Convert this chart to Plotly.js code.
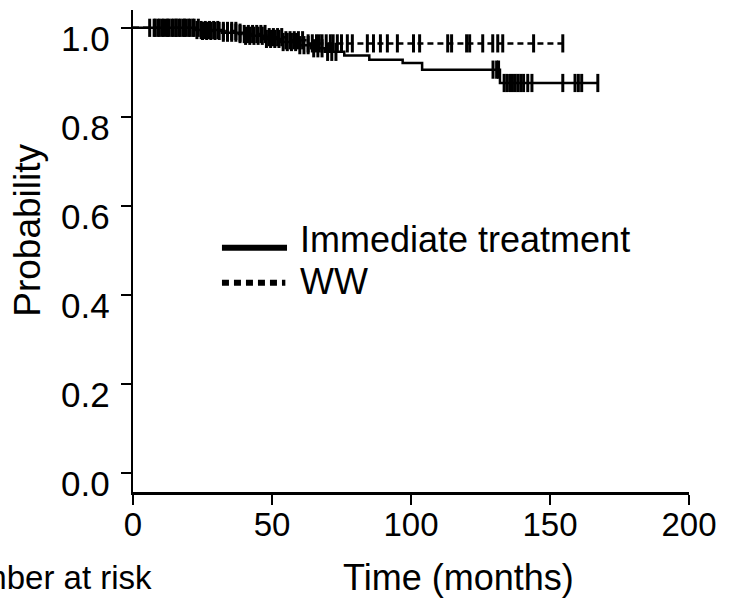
<!DOCTYPE html>
<html>
<head>
<meta charset="utf-8">
<script src="https://cdn.plot.ly/plotly-3.0.1.min.js"></script>
<style>
  html, body { margin: 0; padding: 0; background: #fff; }
  #chart { width: 734px; height: 603px; }
</style>
</head>
<body>
<div id="chart"></div>
<script>
// Kaplan-Meier step data (time in months, survival probability)
const immTimes = [0, 22, 32, 40, 47, 53, 59, 64, 69, 76, 85, 97, 104, 132, 167.5];
const immSurv  = [1, 0.995, 0.989, 0.982, 0.975, 0.968, 0.961, 0.954, 0.946, 0.938, 0.928, 0.921, 0.906, 0.876, 0.876];
const immCensor = [8, 9.5, 11, 12.5, 14, 15.5, 17, 18.5, 20, 21.5, 23, 24.5, 26, 27.5, 29, 30.5, 32.5, 34, 35.5, 37, 38.5,
                   40.5, 42, 43.5, 45, 46.5, 48, 49.5, 51, 52.5, 54, 55.5, 57, 58.5, 60, 61.5, 63, 65, 66.5, 68, 70, 71.5, 73,
                   129.5, 130.8, 131.5, 133.5, 134.5, 135.5, 136.5, 137.5, 138.5, 139.5, 140.5, 142, 143.5,
                   154.6, 159, 160.2, 161.4, 167.2];

const wwTimes = [0, 25, 38, 48, 55, 62, 155.5];
const wwSurv  = [1, 0.993, 0.986, 0.979, 0.972, 0.965, 0.965];
const wwCensor = [6, 7.6, 9, 10.5, 12, 13, 14.5, 15.5, 16.5, 18, 19, 20.5, 22, 23.5, 25, 26.5, 28, 29.5, 31, 32.5, 34, 35.5,
                  37, 38.5, 40, 41.5, 43, 44.5, 46, 47.5, 49, 50.5, 52, 53.5, 55, 56.5, 58, 59.5, 61,
                  63, 64.5, 66, 67, 68, 69.5, 71, 72, 73.5, 75, 77.1, 78.9, 84.3, 86.5, 89, 91.5, 95.1, 100.9, 103.1,
                  113.2, 114.6, 120, 121.1, 125.8, 129.4, 131.2, 133, 144.1, 154.6];

const seriesNames = ['Immediate treatment', 'WW'];
const xTicks = [0, 50, 100, 150, 200];
const yTicks = [0, 0.2, 0.4, 0.6, 0.8, 1.0];
const yTickLabels = ['0.0', '0.2', '0.4', '0.6', '0.8', '1.0'];

function survAt(times, surv, t) {
  let s = surv[0];
  for (let i = 0; i < times.length; i++) { if (times[i] <= t) s = surv[i]; }
  return s;
}

const font = 'Liberation Sans, Arial, sans-serif';
const censorMarker = { symbol: 'line-ns-open', size: 13, color: '#000', line: { width: 3, color: '#000' } };

const traces = [
  { x: immTimes, y: immSurv, mode: 'lines', line: { shape: 'hv', color: '#000', width: 2.5 }, name: seriesNames[0], showlegend: false, hoverinfo: 'skip' },
  { x: immCensor, y: immCensor.map(t => survAt(immTimes, immSurv, t)), mode: 'markers', marker: censorMarker, showlegend: false, hoverinfo: 'skip' },
  { x: wwTimes, y: wwSurv, mode: 'lines', line: { shape: 'hv', color: '#000', width: 2.5, dash: '6px,4px' }, name: seriesNames[1], showlegend: false, hoverinfo: 'skip' },
  { x: wwCensor, y: wwCensor.map(t => survAt(wwTimes, wwSurv, t)), mode: 'markers', marker: censorMarker, showlegend: false, hoverinfo: 'skip' }
];

// y tick labels drawn as annotations (they sit slightly below their ticks in the reference)
const yLabelAnns = yTicks.map((v, i) => ({
  xref: 'paper', yref: 'y', x: -0.038, y: v, xanchor: 'right', yanchor: 'middle', yshift: -11,
  text: yTickLabels[i], showarrow: false, font: { family: font, size: 35 }
}));

const layout = {
  width: 734, height: 603,
  margin: { l: 133, r: 45, t: 10, b: 111 },
  paper_bgcolor: '#fff', plot_bgcolor: '#fff',
  font: { family: font, color: '#000', size: 32 },
  showlegend: false,
  xaxis: {
    range: [0, 200], tickvals: xTicks, ticktext: xTicks.map(String),
    showline: true, linecolor: '#000', linewidth: 2.5, ticks: 'outside', ticklen: 10, tickwidth: 2.5, tickcolor: '#000',
    showgrid: false, zeroline: false, tickfont: { family: font, size: 33 }, ticklabelstandoff: -8, fixedrange: true
  },
  yaxis: {
    range: [-0.043, 1.04], tickvals: yTicks, showticklabels: false,
    showline: true, linecolor: '#000', linewidth: 2.5, ticks: 'outside', ticklen: 10, tickwidth: 2.5, tickcolor: '#000',
    showgrid: false, zeroline: false, fixedrange: true
  },
  shapes: [
    { type: 'line', xref: 'paper', yref: 'paper', x0: 0.160, x1: 0.277, y0: 0.507, y1: 0.507, line: { color: '#000', width: 6 } },
    { type: 'line', xref: 'paper', yref: 'paper', x0: 0.160, x1: 0.274, y0: 0.434, y1: 0.434, line: { color: '#000', width: 6, dash: '7px,5px' } }
  ],
  annotations: yLabelAnns.concat([
    { xref: 'paper', yref: 'paper', x: -0.189, y: 0.544, xanchor: 'center', yanchor: 'middle', textangle: -90, text: 'Probability', showarrow: false, font: { family: font, size: 37 } },
    { xref: 'paper', yref: 'paper', x: 0.297, y: 0.523, xanchor: 'left', yanchor: 'middle', text: seriesNames[0], showarrow: false, font: { family: font, size: 36 } },
    { xref: 'paper', yref: 'paper', x: 0.297, y: 0.436, xanchor: 'left', yanchor: 'middle', text: seriesNames[1], showarrow: false, font: { family: font, size: 36 } },
    { xref: 'paper', yref: 'paper', x: 0.585, y: -0.177, xanchor: 'center', yanchor: 'middle', text: 'Time (months)', showarrow: false, font: { family: font, size: 36 } },
    { xref: 'paper', yref: 'paper', x: 0.037, y: -0.177, xanchor: 'right', yanchor: 'middle', text: 'Number at risk', showarrow: false, font: { family: font, size: 33 } }
  ])
};

Plotly.newPlot('chart', traces, layout, { displayModeBar: false, staticPlot: true });
</script>
</body>
</html>
